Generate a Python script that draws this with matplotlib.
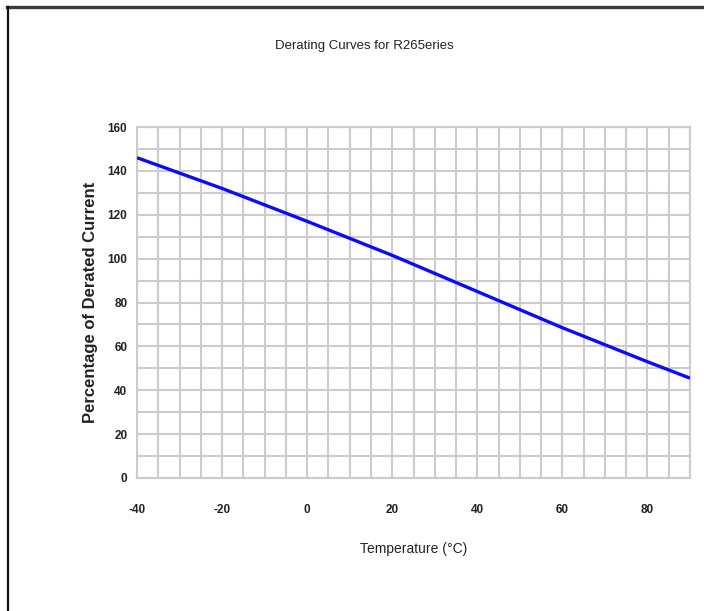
import matplotlib
matplotlib.use("Agg")
import matplotlib.pyplot as plt
from matplotlib.lines import Line2D

# Derating curve
temperatures = [-40, -20, 0, 20, 40, 60, 80, 90]
percent_rated = [146, 132, 117, 101.5, 85, 68.5, 53, 45.5]

x_ticks = [-40, -20, 0, 20, 40, 60, 80]
y_ticks = [0, 20, 40, 60, 80, 100, 120, 140, 160]

TITLE = "Derating Curves for R265eries"
X_LABEL = "Temperature (\u00b0C)"
Y_LABEL = "Percentage of Derated Current"

plt.rcParams["font.family"] = ["Liberation Sans", "DejaVu Sans"]
plt.rcParams["axes.unicode_minus"] = False

W, H = 704, 611
fig = plt.figure(figsize=(W / 100, H / 100), dpi=100)
fig.patch.set_facecolor("white")

# plot area in pixels: x 137..690, y 127..478
ax = fig.add_axes([137 / W, 1 - 478 / H, (690 - 137) / W, (478 - 127) / H])
ax.plot(temperatures, percent_rated, color="#0a0aff", linewidth=2.4, zorder=3,
        solid_capstyle="butt")

ax.set_xlim(-40, 90)
ax.set_ylim(0, 160)
ax.set_xticks(x_ticks)
ax.set_yticks(y_ticks)
ax.set_xticks(range(-40, 91, 5), minor=True)
ax.set_yticks(range(0, 161, 10), minor=True)
ax.grid(which="both", color="#cccccc", linewidth=1.5, zorder=0)
ax.set_axisbelow(True)
for s in ax.spines.values():
    s.set_color("#cccccc")
    s.set_linewidth(1.5)
ax.tick_params(which="both", length=0)
ax.tick_params(axis="x", pad=18.5, labelsize=8.5)
ax.tick_params(axis="y", pad=7, labelsize=8.5)
for lab in ax.get_xticklabels() + ax.get_yticklabels():
    lab.set_fontweight("bold")
    lab.set_color("#222222")

ax.set_xlabel(X_LABEL, fontsize=10, labelpad=19, color="#222222")
ax.set_ylabel(Y_LABEL, fontsize=12, fontweight="bold", labelpad=7, color="#222222")
fig.text(364 / W, 1 - 46 / H, TITLE, fontsize=9.5, ha="center", va="center", color="#222222")

# frame lines of the surrounding panel (top and left)
fig.add_artist(Line2D([7 / W, 1], [1 - 6.5 / H, 1 - 6.5 / H], transform=fig.transFigure,
                      color="#3a3a3a", linewidth=2.4))
fig.add_artist(Line2D([7.7 / W, 7.7 / W], [0, 1 - 6.5 / H], transform=fig.transFigure,
                      color="#111111", linewidth=1.6))

fig.savefig("out.png", dpi=100)
